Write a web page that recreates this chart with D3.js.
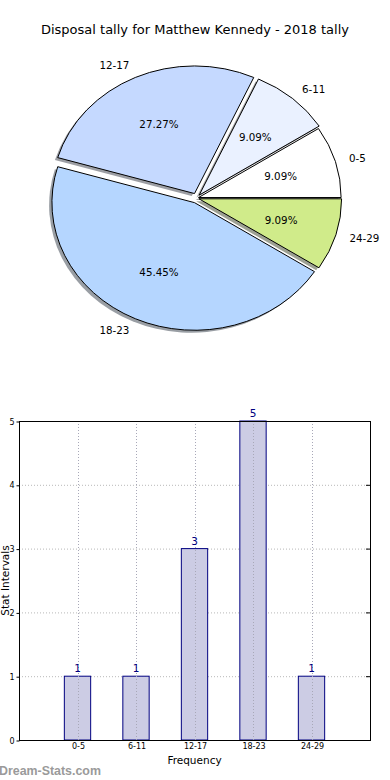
<!DOCTYPE html>
<html>
<head>
<meta charset="utf-8">
<script src="https://cdn.jsdelivr.net/npm/d3@7"></script>
<style>
  body { margin: 0; background: #fff; }
  svg { display: block; font-family: "DejaVu Sans", sans-serif; }
</style>
</head>
<body>
<svg id="chart" width="390" height="780"></svg>
<script>
// chart values
const categories = ['0-5', '6-11', '12-17', '18-23', '24-29'];
const counts = [1, 1, 3, 5, 1];
const yTicks = [0, 1, 2, 3, 4, 5];
const title = 'Disposal tally for Matthew Kennedy - 2018 tally';

// slice colours and explode offsets (px)
const sliceColors = ['#ffffff', '#eaf1ff', '#c5d9ff', '#b5d6ff', '#d0eb8a'];
const explode = [2, 4, 5, 5, 2.5];

const width = 390;
const svg = d3.select('#chart');

svg.append('text')
  .attr('x', width / 2)
  .attr('y', 34)
  .attr('text-anchor', 'middle')
  .style('font-size', '13px')
  .style('fill', '#000')
  .text(title);

// ---- pie (matplotlib style: starts at 3 o'clock, goes counter-clockwise, stretched into ellipse)
const cx = 196.6, cy = 198.1, rx = 142.6, ry = 127.6;
const sy = ry / rx;
const total = d3.sum(counts);

const pie = d3.pie()
  .sort(null)
  .startAngle(Math.PI / 2)
  .endAngle(-3 * Math.PI / 2);
const arcs = pie(counts);
const arc = d3.arc().innerRadius(0).outerRadius(rx);

const midDir = d => {
  const a = (d.startAngle + d.endAngle) / 2;
  return [Math.sin(a), -Math.cos(a)];
};

const pieG = svg.append('g');

// shadows first
pieG.selectAll('path.shadow')
  .data(arcs)
  .enter()
  .append('path')
  .attr('class', 'shadow')
  .attr('transform', (d, i) => {
    const [dx, dy] = midDir(d);
    return `translate(${cx + dx * explode[i] - 2.8},${cy + dy * explode[i] + 2.5}) scale(1,${sy})`;
  })
  .attr('d', arc)
  .attr('fill', (d, i) => d3.rgb(sliceColors[i]).darker(3.5))
  .attr('fill-opacity', 0.5);

pieG.selectAll('path.slice')
  .data(arcs)
  .enter()
  .append('path')
  .attr('class', 'slice')
  .attr('transform', (d, i) => {
    const [dx, dy] = midDir(d);
    return `translate(${cx + dx * explode[i]},${cy + dy * explode[i]}) scale(1,${sy})`;
  })
  .attr('d', arc)
  .attr('fill', (d, i) => sliceColors[i])
  .attr('stroke', '#000')
  .attr('stroke-width', 1)
  .attr('vector-effect', 'non-scaling-stroke');

// outer labels
pieG.selectAll('text.label')
  .data(arcs)
  .enter()
  .append('text')
  .attr('class', 'label')
  .attr('x', (d, i) => cx + midDir(d)[0] * (explode[i] + 1.1 * rx))
  .attr('y', (d, i) => cy + midDir(d)[1] * (explode[i] + 1.1 * ry))
  .attr('dy', '0.35em')
  .attr('text-anchor', d => midDir(d)[0] < 0 ? 'end' : 'start')
  .style('font-size', '10.3px')
  .text((d, i) => categories[i]);

// percentage labels
pieG.selectAll('text.pct')
  .data(arcs)
  .enter()
  .append('text')
  .attr('class', 'pct')
  .attr('x', (d, i) => cx + midDir(d)[0] * (explode[i] + 0.6 * rx))
  .attr('y', (d, i) => cy + midDir(d)[1] * (explode[i] + 0.6 * ry))
  .attr('dy', '0.35em')
  .attr('text-anchor', 'middle')
  .style('font-size', '10.3px')
  .text(d => (d.value / total * 100).toFixed(2) + '%');

// ---- bar chart
const plot = { left: 19, right: 370, top: 421, bottom: 740 };

const x = d3.scaleLinear()
  .domain([-1, categories.length])
  .range([plot.left, plot.right]);
const y = d3.scaleLinear()
  .domain([0, d3.max(yTicks)])
  .range([plot.bottom, plot.top]);

const barW = x(0.45) - x(0);

// grid
const grid = svg.append('g')
  .attr('stroke', '#b8b8b8')
  .attr('stroke-dasharray', '1,2');
grid.selectAll('line.gy')
  .data(yTicks)
  .enter()
  .append('line')
  .attr('x1', plot.left).attr('x2', plot.right)
  .attr('y1', d => y(d) + 0.5).attr('y2', d => y(d) + 0.5);

// bars
svg.selectAll('rect.bar')
  .data(counts)
  .enter()
  .append('rect')
  .attr('class', 'bar')
  .attr('x', (d, i) => x(i) - barW / 2)
  .attr('y', d => y(d))
  .attr('width', barW)
  .attr('height', d => y(0) - y(d))
  .attr('fill', '#ccccE4')
  .attr('stroke', '#000080')
  .attr('stroke-width', 1);

// vertical grid lines are drawn over the bars
svg.append('g')
  .attr('stroke', '#a8a8b8')
  .attr('stroke-dasharray', '1,2')
  .selectAll('line')
  .data(categories)
  .enter()
  .append('line')
  .attr('x1', (d, i) => Math.round(x(i)) + 0.5)
  .attr('x2', (d, i) => Math.round(x(i)) + 0.5)
  .attr('y1', plot.top).attr('y2', plot.bottom);

// value labels
svg.selectAll('text.val')
  .data(counts)
  .enter()
  .append('text')
  .attr('class', 'val')
  .attr('x', (d, i) => x(i))
  .attr('y', d => y(d) - 4)
  .attr('text-anchor', 'middle')
  .style('font-size', '10.5px')
  .style('fill', '#000080')
  .text(d => d);

// frame
svg.append('rect')
  .attr('x', plot.left + 0.5)
  .attr('y', plot.top + 0.5)
  .attr('width', plot.right - plot.left)
  .attr('height', plot.bottom - plot.top)
  .attr('fill', 'none')
  .attr('stroke', '#000')
  .attr('stroke-width', 1);

// y axis
const yAxis = svg.append('g')
  .attr('transform', `translate(${plot.left + 0.5},0.5)`)
  .call(d3.axisLeft(y).tickValues(yTicks).tickFormat(d3.format('d')).tickSize(3).tickPadding(2));
yAxis.select('.domain').remove();
yAxis.selectAll('text').style('font-size', '8px').style('font-family', '"DejaVu Sans", sans-serif');

// right-side inner ticks
svg.append('g')
  .selectAll('line')
  .data(yTicks)
  .enter()
  .append('line')
  .attr('x1', plot.right - 4).attr('x2', plot.right)
  .attr('y1', d => y(d) + 0.5).attr('y2', d => y(d) + 0.5)
  .attr('stroke', '#000');

// x axis
const xAxis = svg.append('g')
  .attr('transform', `translate(0.5,${plot.bottom + 0.5})`)
  .call(d3.axisBottom(x).tickValues(d3.range(categories.length)).tickFormat(i => categories[i]).tickSize(0).tickPadding(3));
xAxis.select('.domain').remove();
xAxis.selectAll('text').style('font-size', '8px').style('font-family', '"DejaVu Sans", sans-serif');

svg.append('text')
  .attr('x', (plot.left + plot.right) / 2)
  .attr('y', 764)
  .attr('text-anchor', 'middle')
  .style('font-size', '10.5px')
  .text('Frequency');

svg.append('text')
  .attr('transform', `translate(9,${(plot.top + plot.bottom) / 2}) rotate(-90)`)
  .attr('text-anchor', 'middle')
  .style('font-size', '10.5px')
  .text('Stat Intervals');

// watermark
svg.append('text')
  .attr('x', -1)
  .attr('y', 775)
  .style('font-family', '"Liberation Sans", Arial, sans-serif')
  .style('font-size', '12.4px')
  .style('fill', '#9a9a9a')
  .style('font-weight', 'bold')
  .text('Dream-Stats.com');
</script>
</body>
</html>
